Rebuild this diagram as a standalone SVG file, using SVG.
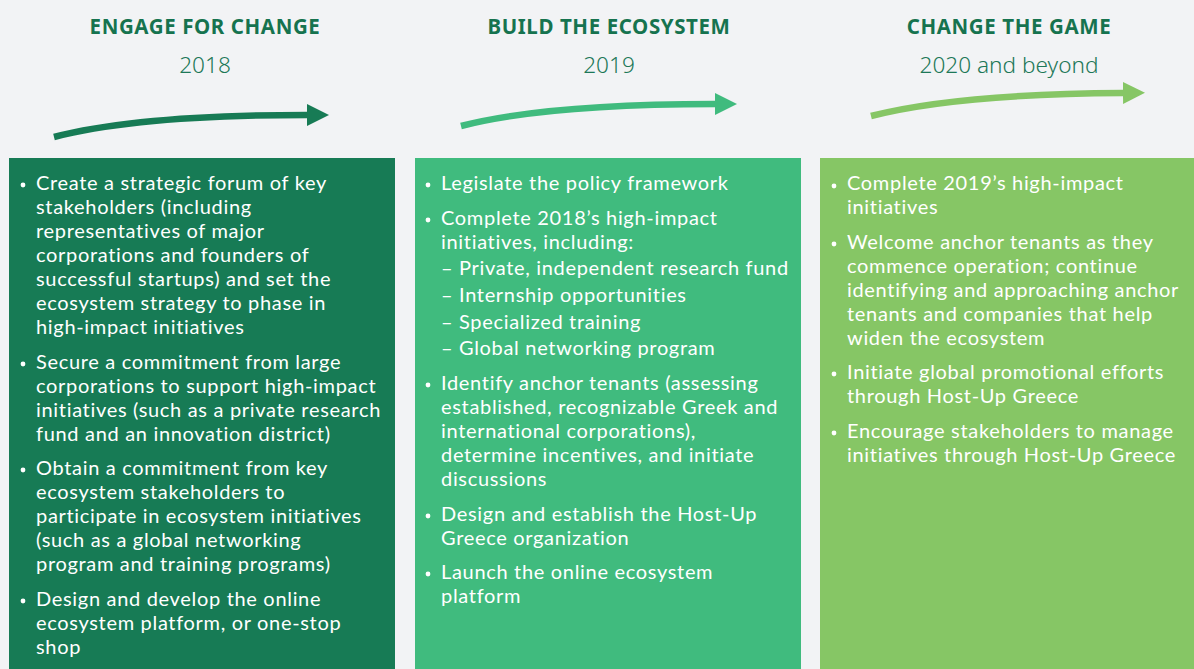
<svg xmlns="http://www.w3.org/2000/svg" width="1194" height="669" viewBox="0 0 1194 669">
<defs>
<style>
.bg{fill:#f2f3f5}
.hd{font-family:"Noto Sans","Liberation Sans",sans-serif;font-weight:700;font-size:20.5px;fill:#16734f;text-anchor:middle;letter-spacing:0.6px}
.yr{font-family:"Noto Sans","Liberation Sans",sans-serif;font-weight:300;font-size:22.6px;fill:#1d7858;text-anchor:middle}
.tx{font-family:Lato,"Noto Sans",sans-serif;font-size:20px;letter-spacing:0.68px;fill:#ffffff}
.dot{fill:#ffffff}
.a1{fill:none;stroke:#177b55;stroke-width:6.5}
.a2{fill:none;stroke:#40bb7e;stroke-width:6.5}
.a3{fill:none;stroke:#86c665;stroke-width:6.5}
</style>
<marker id="m1" markerUnits="userSpaceOnUse" markerWidth="22" markerHeight="22" refX="0" refY="10" orient="auto" viewBox="0 0 20 20"><path d="M0,0 L20,10 L0,20 Z" fill="#177b55"/></marker>
<marker id="m2" markerUnits="userSpaceOnUse" markerWidth="22" markerHeight="22" refX="0" refY="10" orient="auto" viewBox="0 0 20 20"><path d="M0,0 L20,10 L0,20 Z" fill="#40bb7e"/></marker>
<marker id="m3" markerUnits="userSpaceOnUse" markerWidth="22" markerHeight="22" refX="0" refY="10" orient="auto" viewBox="0 0 20 20"><path d="M0,0 L20,10 L0,20 Z" fill="#86c665"/></marker>
</defs>
<rect class="bg" x="0" y="0" width="1194" height="669"/>

<g id="connectors">
<path class="a1" d="M54,137 Q140,115 307,115" marker-end="url(#m1)"/>
<path class="a2" d="M461,126 Q547,104 715,104" marker-end="url(#m2)"/>
<path class="a3" d="M871,116 Q957,94 1123,93" marker-end="url(#m3)"/>
</g>

<g id="phase1">
<text class="hd" x="205" y="34">ENGAGE FOR CHANGE</text>
<text class="yr" x="205" y="73">2018</text>
<rect x="9" y="158" width="386" height="511" fill="#177b55"/>
<circle class="dot" cx="23" cy="185" r="2.4"/>
<text class="tx" x="36" y="190">Create a strategic forum of key</text>
<text class="tx" x="36" y="214">stakeholders (including</text>
<text class="tx" x="36" y="238">representatives of major</text>
<text class="tx" x="36" y="262">corporations and founders of</text>
<text class="tx" x="36" y="286">successful startups) and set the</text>
<text class="tx" x="36" y="310">ecosystem strategy to phase in</text>
<text class="tx" x="36" y="334">high-impact initiatives</text>
<circle class="dot" cx="23" cy="364" r="2.4"/>
<text class="tx" x="36" y="369">Secure a commitment from large</text>
<text class="tx" x="36" y="393">corporations to support high-impact</text>
<text class="tx" x="36" y="417">initiatives (such as a private research</text>
<text class="tx" x="36" y="441">fund and an innovation district)</text>
<circle class="dot" cx="23" cy="470" r="2.4"/>
<text class="tx" x="36" y="475">Obtain a commitment from key</text>
<text class="tx" x="36" y="499">ecosystem stakeholders to</text>
<text class="tx" x="36" y="523">participate in ecosystem initiatives</text>
<text class="tx" x="36" y="547">(such as a global networking</text>
<text class="tx" x="36" y="571">program and training programs)</text>
<circle class="dot" cx="23" cy="601" r="2.4"/>
<text class="tx" x="36" y="606">Design and develop the online</text>
<text class="tx" x="36" y="630">ecosystem platform, or one-stop</text>
<text class="tx" x="36" y="654">shop</text>
</g>

<g id="phase2">
<text class="hd" x="609" y="34">BUILD THE ECOSYSTEM</text>
<text class="yr" x="609" y="73">2019</text>
<rect x="415" y="158" width="386" height="511" fill="#40bb7e"/>
<circle class="dot" cx="428" cy="185" r="2.4"/>
<text class="tx" x="441" y="190">Legislate the policy framework</text>
<circle class="dot" cx="428" cy="220" r="2.4"/>
<text class="tx" x="441" y="225">Complete 2018’s high-impact</text>
<text class="tx" x="441" y="249">initiatives, including:</text>
<text class="tx" x="441" y="275">–<tspan x="459">Private, independent research fund</tspan></text>
<text class="tx" x="441" y="302">–<tspan x="459">Internship opportunities</tspan></text>
<text class="tx" x="441" y="329">–<tspan x="459">Specialized training</tspan></text>
<text class="tx" x="441" y="355">–<tspan x="459">Global networking program</tspan></text>
<circle class="dot" cx="428" cy="385" r="2.4"/>
<text class="tx" x="441" y="390">Identify anchor tenants (assessing</text>
<text class="tx" x="441" y="414">established, recognizable Greek and</text>
<text class="tx" x="441" y="438">international corporations),</text>
<text class="tx" x="441" y="462">determine incentives, and initiate</text>
<text class="tx" x="441" y="486">discussions</text>
<circle class="dot" cx="428" cy="516" r="2.4"/>
<text class="tx" x="441" y="521">Design and establish the Host-Up</text>
<text class="tx" x="441" y="545">Greece organization</text>
<circle class="dot" cx="428" cy="574" r="2.4"/>
<text class="tx" x="441" y="579">Launch the online ecosystem</text>
<text class="tx" x="441" y="603">platform</text>
</g>

<g id="phase3">
<text class="hd" x="1009" y="34">CHANGE THE GAME</text>
<text class="yr" x="1009" y="73">2020 and beyond</text>
<rect x="820" y="158" width="374" height="511" fill="#86c665"/>
<circle class="dot" cx="834" cy="186" r="2.4"/>
<text class="tx" x="847" y="190">Complete 2019’s high-impact</text>
<text class="tx" x="847" y="214">initiatives</text>
<circle class="dot" cx="834" cy="244" r="2.4"/>
<text class="tx" x="847" y="249">Welcome anchor tenants as they</text>
<text class="tx" x="847" y="273">commence operation; continue</text>
<text class="tx" x="847" y="297">identifying and approaching anchor</text>
<text class="tx" x="847" y="321">tenants and companies that help</text>
<text class="tx" x="847" y="345">widen the ecosystem</text>
<circle class="dot" cx="834" cy="374" r="2.4"/>
<text class="tx" x="847" y="379">Initiate global promotional efforts</text>
<text class="tx" x="847" y="403">through Host-Up Greece</text>
<circle class="dot" cx="834" cy="433" r="2.4"/>
<text class="tx" x="847" y="438">Encourage stakeholders to manage</text>
<text class="tx" x="847" y="462">initiatives through Host-Up Greece</text>
</g>
</svg>
